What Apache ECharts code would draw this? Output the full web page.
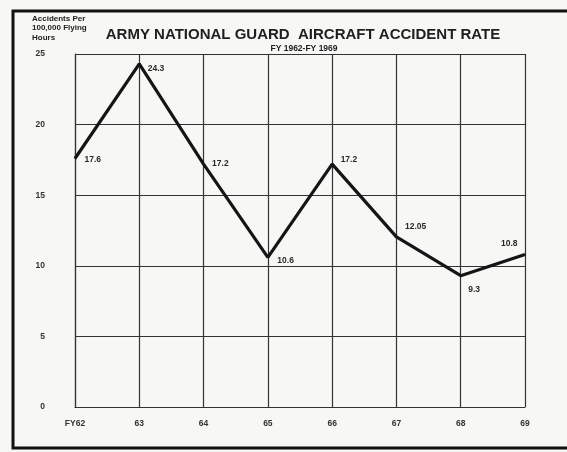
<!DOCTYPE html>
<html>
<head>
<meta charset="utf-8">
<script src="https://cdn.jsdelivr.net/npm/echarts@6/dist/echarts.min.js"></script>
<style>
html,body{margin:0;padding:0;background:#f6f6f4;}
#c{width:567px;height:452px;}
</style>
</head>
<body>
<div id="c"></div>
<script>
const categories = ['FY62', '63', '64', '65', '66', '67', '68', '69'];
const rates = [17.6, 24.3, 17.2, 10.6, 17.2, 12.05, 9.3, 10.8];
const rateLabels = ['17.6', '24.3', '17.2', '10.6', '17.2', '12.05', '9.3', '10.8'];
const yTicks = [0, 5, 10, 15, 20, 25];

const labelOffsets = [[4, 1], [3, 5], [3, 0], [4, 3], [3, -4], [3, -10], [2, 14], [-2, -11]];
const labelPos = ['right', 'right', 'right', 'right', 'right', 'right', 'right', 'left'];

const chart = echarts.init(document.getElementById('c'));
const font = '"Liberation Sans", Arial, sans-serif';
chart.setOption({
  backgroundColor: '#f7f7f5',
  animation: false,
  title: [{
    text: 'ARMY NATIONAL GUARD  AIRCRAFT ACCIDENT RATE',
    left: 298, top: 22, textAlign: 'center',
    textStyle: {fontFamily: font, fontSize: 15, fontWeight: 'bold', color: '#1e1e1e'}
  }, {
    text: 'FY 1962-FY 1969',
    left: 299, top: 39, textAlign: 'center',
    textStyle: {fontFamily: font, fontSize: 8.5, fontWeight: 'bold', color: '#1e1e1e'}
  }],
  graphic: [{
    type: 'rect',
    shape: {x: 13, y: 11, width: 600, height: 437},
    style: {fill: 'none', stroke: '#111', lineWidth: 3},
    silent: true
  }, {
    type: 'text',
    left: 32, top: 14,
    style: {
      text: 'Accidents Per\n100,000 Flying\nHours',
      font: 'bold 8px "Liberation Sans", Arial, sans-serif',
      fill: '#222', lineHeight: 9.5
    }
  }],
  grid: {left: 75, right: 42, top: 54, bottom: 45},
  xAxis: {
    type: 'category',
    data: categories,
    boundaryGap: false,
    axisLine: {lineStyle: {color: '#333', width: 1.2}},
    axisTick: {show: false},
    axisLabel: {fontFamily: font, fontSize: 8.5, fontWeight: 'bold', color: '#333', margin: 12},
    splitLine: {show: true, lineStyle: {color: '#333', width: 1.2}}
  },
  yAxis: {
    type: 'value',
    min: yTicks[0], max: yTicks[yTicks.length - 1], interval: 5,
    axisLine: {show: true, lineStyle: {color: '#333', width: 1.2}},
    axisTick: {show: false},
    axisLabel: {fontFamily: font, fontSize: 8.5, fontWeight: 'bold', color: '#333', margin: 30, align: 'right'},
    splitLine: {show: true, lineStyle: {color: '#333', width: 1.2}}
  },
  series: [{
    type: 'line',
    data: rates.map((v, i) => ({
      value: v,
      label: {show: true, position: labelPos[i], offset: labelOffsets[i], formatter: rateLabels[i]}
    })),
    symbol: 'circle',
    symbolSize: 1,
    showSymbol: true,
    itemStyle: {color: '#151515'},
    lineStyle: {color: '#151515', width: 3.2},
    label: {show: true, fontFamily: font, fontSize: 8.5, fontWeight: 'bold', color: '#2a2a2a'}
  }]
});
</script>
</body>
</html>
